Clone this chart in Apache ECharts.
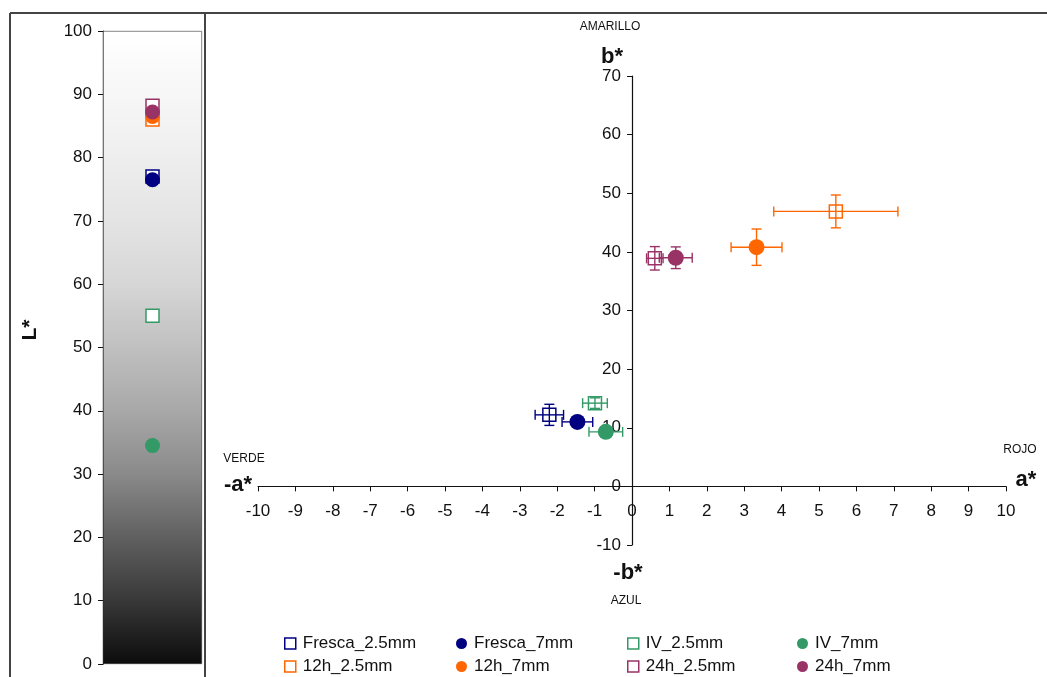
<!DOCTYPE html>
<html><head><meta charset="utf-8">
<script src="https://cdn.jsdelivr.net/npm/echarts@6/dist/echarts.min.js"></script>
<style>html,body{margin:0;padding:0;background:#fff}#c{width:1047px;height:677px}</style>
</head><body><div id="c"></div>
<script>
const names = ['Fresca_2.5mm','Fresca_7mm','IV_2.5mm','IV_7mm','12h_2.5mm','12h_7mm','24h_2.5mm','24h_7mm'];
const lStar = [77, 76.5, 55, 34.5, 86, 86.5, 88.2, 87.2];
const aStar = [-2.21, -1.46, -0.99, -0.7, 5.45, 3.33, 0.61, 1.17];
const bStar = [12.2, 11.0, 14.2, 9.3, 46.9, 40.8, 38.9, 39.0];
const aErr = [0.38, 0.41, 0.33, 0.45, 1.66, 0.68, 0.22, 0.44];
const bErr = [1.8, 0.6, 0.9, 0.6, 2.8, 3.1, 2.0, 1.85];

const colors = ['#000080','#000080','#339966','#339966','#ff6600','#ff6600','#993366','#993366'];
const hollow = [true,false,true,false,true,false,true,false];
const FONT = 'Liberation Sans, Arial, sans-serif';

const G = {left:258, top:76, width:748, height:469};
const aMin=-10, aMax=10, bMin=-10, bMax=70;
const yAxisOffset = -(0 - aMin) / (aMax - aMin) * G.width;
const xAxisOffset = -(0 - bMin) / (bMax - bMin) * G.height;

const chart = echarts.init(document.getElementById('c'));
const series = [];
series.push({
  type:'bar', xAxisIndex:0, yAxisIndex:0, data:[100], barWidth:'100%', silent:true, z:1,
  itemStyle:{borderColor:'#333', borderWidth:0.6, color:{type:'linear',x:0,y:0,x2:0,y2:1,colorStops:[
    {offset:0,color:'#ffffff'},{offset:0.1,color:'#f7f7f7'},{offset:0.2,color:'#eeeeee'},
    {offset:0.3,color:'#e4e4e4'},{offset:0.4,color:'#d6d6d6'},{offset:0.5,color:'#c0c0c0'},
    {offset:0.6,color:'#a8a8a8'},{offset:0.7,color:'#8a8a8a'},{offset:0.8,color:'#606060'},
    {offset:0.9,color:'#383838'},{offset:1,color:'#0c0c0c'}]}}
});
names.forEach((n,i)=>{
  const sty = hollow[i] ? {color:'#fff',borderColor:colors[i],borderWidth:1.5,opacity:1} : {color:colors[i],opacity:1};
  series.push({type:'scatter', name:n, xAxisIndex:0, yAxisIndex:0, z:3,
    symbol: hollow[i]?'rect':'circle', symbolSize: hollow[i]?13:15,
    itemStyle:sty, data:[[0, lStar[i]]]});
  series.push({type:'scatter', name:n, xAxisIndex:1, yAxisIndex:1, z:3,
    symbol: hollow[i]?'rect':'circle', symbolSize: hollow[i]?13:16,
    itemStyle:sty, data:[[aStar[i], bStar[i]]]});
  series.push({type:'custom', name:n+' err', xAxisIndex:1, yAxisIndex:1, z:4, silent:true,
    data:[[aStar[i], bStar[i], aErr[i], bErr[i]]],
    renderItem:(params, api)=>{
      const a=api.value(0), b=api.value(1), ea=api.value(2), eb=api.value(3);
      const l=api.coord([a-ea,b]), r=api.coord([a+ea,b]);
      const t=api.coord([a,b+eb]), d=api.coord([a,b-eb]);
      const cap=5, st={stroke:colors[i], lineWidth:1.4};
      return {type:'group', children:[
        {type:'line', shape:{x1:l[0],y1:l[1],x2:r[0],y2:r[1]}, style:st},
        {type:'line', shape:{x1:l[0],y1:l[1]-cap,x2:l[0],y2:l[1]+cap}, style:st},
        {type:'line', shape:{x1:r[0],y1:r[1]-cap,x2:r[0],y2:r[1]+cap}, style:st},
        {type:'line', shape:{x1:t[0],y1:t[1],x2:d[0],y2:d[1]}, style:st},
        {type:'line', shape:{x1:t[0]-cap,y1:t[1],x2:t[0]+cap,y2:t[1]}, style:st},
        {type:'line', shape:{x1:d[0]-cap,y1:d[1],x2:d[0]+cap,y2:d[1]}, style:st}
      ]};
    }});
});

const legendCols = [[0,4],[1,5],[2,6],[3,7]];
const legendLeft = [284, 456, 627, 797];
const legends = legendCols.map((col,k)=>({
  left:legendLeft[k], top:635, orient:'vertical', padding:0, itemGap:6,
  itemWidth:11, itemHeight:11, selectedMode:false,
  textStyle:{fontFamily:FONT, fontSize:17, color:'#111', padding:[0,0,0,2]},
  data: col.map(i=>({name:names[i], icon: hollow[i]?'rect':'circle',
    itemStyle: hollow[i]?{color:'#fff',borderColor:colors[i],borderWidth:1.5}:{color:colors[i]}}))
}));

function txt(x,y,s,size,bold,rot){
  return {type:'text', x:x, y:y, rotation:rot||0, style:{text:s, font:(bold?'bold ':'')+size+'px '+FONT,
    fill:'#111', textAlign:'center', textVerticalAlign:'middle'}, z:10};
}
function ln(x1,y1,x2,y2){
  return {type:'line', shape:{x1,y1,x2,y2}, style:{stroke:'#444', lineWidth:2}, z:10};
}

chart.setOption({
  animation:false,
  textStyle:{fontFamily:FONT},
  grid:[
    {left:103, top:31, width:99, height:633},
    {left:G.left, top:G.top, width:G.width, height:G.height}
  ],
  xAxis:[
    {gridIndex:0, type:'category', data:[''], show:false},
    {gridIndex:1, type:'value', min:aMin, max:aMax, interval:1, position:'bottom', offset:xAxisOffset,
      axisLine:{onZero:false, lineStyle:{color:'#111', width:1.2}},
      axisTick:{length:5, lineStyle:{color:'#111'}},
      axisLabel:{fontSize:17, color:'#111', margin:16, fontFamily:FONT},
      splitLine:{show:false}}
  ],
  yAxis:[
    {gridIndex:0, type:'value', min:0, max:100, interval:10,
      axisLine:{show:true, lineStyle:{color:'#111', width:1.2}},
      axisTick:{show:true, length:5, lineStyle:{color:'#111'}},
      axisLabel:{fontSize:17, color:'#111', margin:11, fontFamily:FONT},
      splitLine:{show:false}},
    {gridIndex:1, type:'value', min:bMin, max:bMax, interval:10, position:'left', offset:yAxisOffset,
      axisLine:{show:true, onZero:false, lineStyle:{color:'#111', width:1.2}},
      axisTick:{show:true, length:5, lineStyle:{color:'#111'}},
      axisLabel:{fontSize:17, color:'#111', margin:11, fontFamily:FONT},
      splitLine:{show:false}}
  ],
  legend: legends,
  series: series,
  graphic: [
    ln(10,13,1047,13), ln(10,13,10,677), ln(205,13,205,677),
    txt(30,330,'L*',21,true,Math.PI/2),
    txt(610,27,'AMARILLO',12,false), txt(612,57,'b*',22,true),
    txt(628,573,'-b*',22,true), txt(626,601,'AZUL',12,false),
    txt(238,485,'-a*',22,true), txt(244,459,'VERDE',12,false),
    txt(1026,480,'a*',22,true), txt(1020,450,'ROJO',12,false)
  ]
});
</script></body></html>
